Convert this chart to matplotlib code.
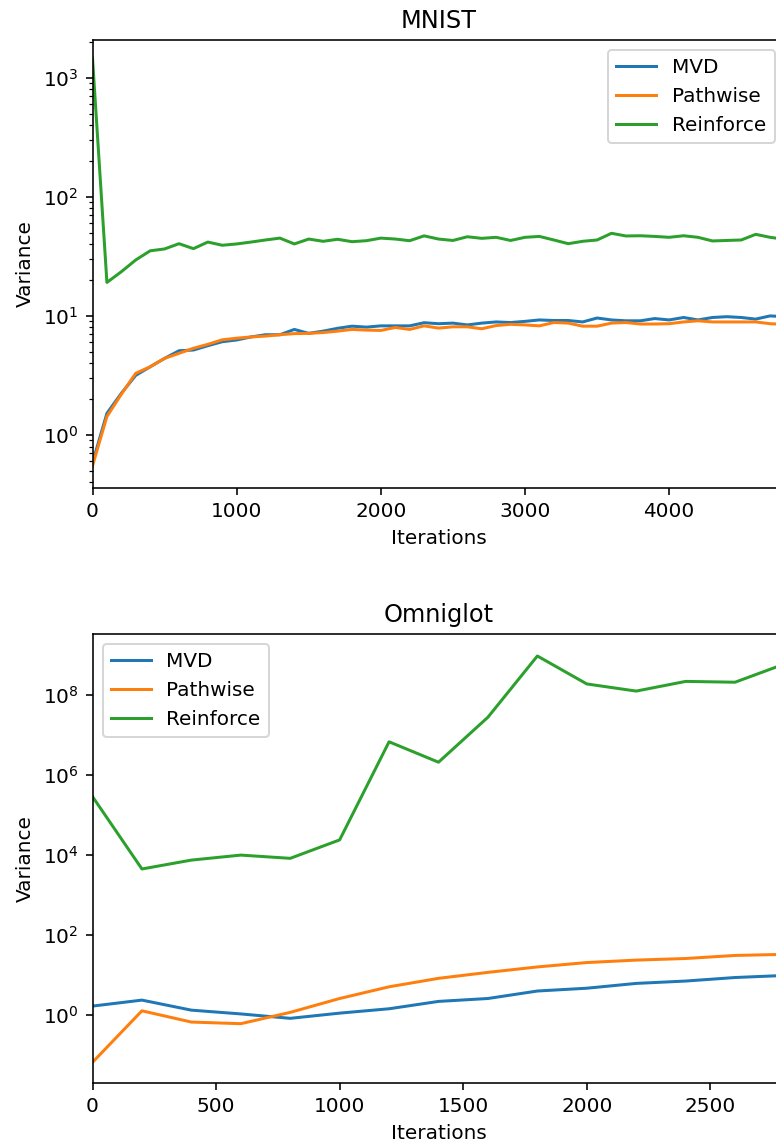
import matplotlib
matplotlib.use("Agg")
import matplotlib.pyplot as plt

# ---- MNIST data ----
mnist_iters = list(range(0, 4900, 100))
mnist_mvd = [0.585, 1.52, 2.24, 3.17, 3.74, 4.4, 5.1, 5.17, 5.62, 6.07,
             6.28, 6.66, 6.95, 6.95, 7.7, 7.14, 7.45, 7.87, 8.2, 8.05,
             8.25, 8.25, 8.25, 8.77, 8.6, 8.7, 8.4, 8.7, 8.9, 8.8,
             9.0, 9.25, 9.15, 9.15, 8.9, 9.6, 9.25, 9.1, 9.1, 9.5,
             9.25, 9.7, 9.25, 9.7, 9.85, 9.7, 9.4, 10.0, 9.85]
mnist_pathwise = [0.55, 1.43, 2.2, 3.3, 3.74, 4.4, 4.85, 5.35, 5.77, 6.3,
                  6.5, 6.66, 6.77, 6.95, 7.1, 7.14, 7.25, 7.45, 7.7, 7.6,
                  7.55, 8.0, 7.7, 8.25, 7.9, 8.1, 8.1, 7.8, 8.3, 8.5,
                  8.4, 8.25, 8.8, 8.7, 8.2, 8.2, 8.7, 8.8, 8.55, 8.55,
                  8.6, 8.9, 9.1, 8.9, 8.9, 8.9, 8.9, 8.6, 8.5]
mnist_reinforce = [1456, 19.1, 23.5, 29.5, 35.2, 36.5, 40.4, 36.7, 41.7, 39.2,
                   40.2, 41.7, 43.4, 45.0, 40.2, 44.2, 42.3, 44.0, 42.0, 42.8,
                   45.0, 44.2, 42.8, 47.0, 44.2, 43.0, 46.2, 44.8, 45.7, 43.0,
                   45.7, 46.5, 43.4, 40.4, 42.3, 43.4, 49.4, 46.9, 47.1, 46.5,
                   45.7, 47.1, 45.7, 42.6, 43.0, 43.4, 48.4, 45.7, 44.0]

# ---- Omniglot data ----
omni_iters = [0, 200, 400, 600, 800, 1000, 1200, 1400, 1600, 1800,
              2000, 2200, 2400, 2600, 2800]
omni_mvd = [1.68, 2.37, 1.33, 1.07, 0.83, 1.12, 1.44, 2.2, 2.6, 4.0,
            4.7, 6.2, 7.1, 8.7, 9.8]
omni_pathwise = [0.066, 1.28, 0.67, 0.61, 1.17, 2.6, 5.1, 8.3, 11.7, 16,
                 20.6, 23.7, 26, 31, 33]
omni_reinforce = [2.9e5, 4.5e3, 7.5e3, 1e4, 8.3e3, 2.4e4, 6.8e6, 2.1e6, 2.8e7, 9.5e8,
                  1.9e8, 1.26e8, 2.2e8, 2.1e8, 6e8]

labels = ["MVD", "Pathwise", "Reinforce"]
mnist_yticks = [1e0, 1e1, 1e2, 1e3]
omni_yticks = [1e0, 1e2, 1e4, 1e6, 1e8]

W, H, DPI = 776, 1148, 144
fig = plt.figure(figsize=(W / DPI, H / DPI), dpi=DPI)

left = 92.5 / W
width = 692 / W
ax1 = fig.add_axes([left, 1 - 488 / H, width, 448 / H])
ax2 = fig.add_axes([left, 1 - 1082.7 / H, width, (1082.7 - 634.3) / H])

for ys, lab in zip([mnist_mvd, mnist_pathwise, mnist_reinforce], labels):
    ax1.plot(mnist_iters, ys, label=lab)
ax1.set_yscale("log")
ax1.set_yticks(mnist_yticks)
ax1.set_xlim(0, 4800)
ax1.set_ylim(0.359, 2073)
ax1.set_title("MNIST")
ax1.set_xlabel("Iterations")
ax1.set_ylabel("Variance")
ax1.legend(loc="upper right")

for ys, lab in zip([omni_mvd, omni_pathwise, omni_reinforce], labels):
    ax2.plot(omni_iters, ys, label=lab)
ax2.set_yscale("log")
ax2.set_yticks(omni_yticks)
ax2.set_xlim(0, 2800)
ax2.set_ylim(10 ** -1.69, 10 ** 9.52)
ax2.set_title("Omniglot")
ax2.set_xlabel("Iterations")
ax2.set_ylabel("Variance")
ax2.legend(loc="upper left")

fig.savefig("out.png", dpi=DPI)
